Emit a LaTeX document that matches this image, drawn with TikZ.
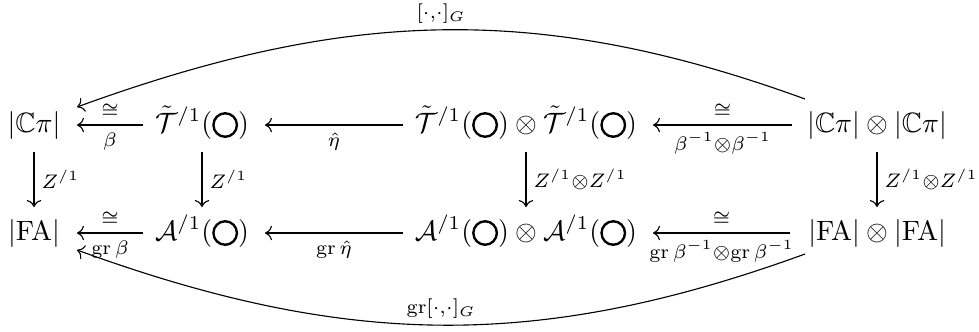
\documentclass[tikz,border=0pt]{standalone}
\usepackage{amsmath,amssymb}
\usetikzlibrary{arrows.meta,calc}
\newcommand{\crc}{\mathord{\tikz[baseline=-2.5pt,x=1pt,y=1pt]\draw[line width=0.85pt] (0,0) circle[radius=4.2pt];}}
\begin{document}
\begin{tikzpicture}[x=0.3575pt,y=-0.3575pt,
  obj/.style={anchor=base,inner sep=0pt},
  arr/.style={-{Computer Modern Rightarrow}, line width=0.4pt},
  lab/.style={inner sep=2.5pt},
  clab/.style={inner sep=2.2pt}]
\useasboundingbox (0,0) rectangle (979,331);
% objects
\node[obj] (A) at (34,132) {$|\mathbb{C}\pi|$};
\node[obj] (B) at (202,132) {$\tilde{\mathcal{T}}^{/1}(\crc)$};
\node[obj] (C) at (526,132) {$\tilde{\mathcal{T}}^{/1}(\crc)\otimes\tilde{\mathcal{T}}^{/1}(\crc)$};
\node[obj] (D) at (877,132) {$|\mathbb{C}\pi|\otimes|\mathbb{C}\pi|$};
\node[obj] (E) at (34,240) {$|\mathrm{FA}|$};
\node[obj] (F) at (202,240) {$\mathcal{A}^{/1}(\crc)$};
\node[obj] (G) at (526,240) {$\mathcal{A}^{/1}(\crc)\otimes\mathcal{A}^{/1}(\crc)$};
\node[obj] (H) at (877,240) {$|\mathrm{FA}|\otimes|\mathrm{FA}|$};
% top row
\draw[arr] ([shift={(-59,-7)}]B.base) -- node[lab,above]{$\scriptstyle\cong$} node[lab,below]{$\scriptstyle\beta$} ([shift={(43,-7)}]A.base);
\draw[arr] ([shift={(-123,-7)}]C.base) -- node[lab,below]{$\scriptstyle\hat\eta$} ([shift={(63,-7)}]B.base);
\draw[arr] ([shift={(-85,-7)}]D.base) -- node[lab,above]{$\scriptstyle\cong$} node[lab,below]{$\scriptstyle\beta^{-1}\otimes\beta^{-1}$} ([shift={(127,-7)}]C.base);
% bottom row
\draw[arr] ([shift={(-59,-7)}]F.base) -- node[lab,above]{$\scriptstyle\cong$} node[lab,below]{$\scriptstyle\operatorname{gr}\beta$} ([shift={(43,-7)}]E.base);
\draw[arr] ([shift={(-123,-7)}]G.base) -- node[lab,below]{$\scriptstyle\operatorname{gr}\hat\eta$} ([shift={(63,-7)}]F.base);
\draw[arr] ([shift={(-87,-7)}]H.base) -- node[lab,above]{$\scriptstyle\cong$} node[lab,below]{$\scriptstyle\operatorname{gr}\beta^{-1}\otimes\operatorname{gr}\beta^{-1}$} ([shift={(127,-7)}]G.base);
% verticals
\draw[arr] ([shift={(0,20)}]A.base) -- node[lab,right]{$\scriptstyle Z^{/1}$} ([shift={(0,-33)}]E.base);
\draw[arr] ([shift={(0,20)}]B.base) -- node[lab,right]{$\scriptstyle Z^{/1}$} ([shift={(0,-33)}]F.base);
\draw[arr] ([shift={(0,20)}]C.base) -- node[lab,right]{$\scriptstyle Z^{/1}\otimes Z^{/1}$} ([shift={(0,-33)}]G.base);
\draw[arr] ([shift={(0,20)}]D.base) -- node[lab,right]{$\scriptstyle Z^{/1}\otimes Z^{/1}$} ([shift={(0,-33)}]H.base);
% curves
\draw[arr] ([shift={(-72,-33)}]D.base) .. controls (537,1.5) and (345,9.5) .. ([shift={(43,-25)}]A.base)
  node[clab,pos=0.5,above]{$\scriptstyle[\cdot,\cdot]_G$};
\draw[arr] ([shift={(-72,14)}]H.base) .. controls (537,351.5) and (345,347.5) .. ([shift={(43,10)}]E.base)
  node[clab,pos=0.5,above]{$\scriptstyle\operatorname{gr}[\cdot,\cdot]_G$};
\end{tikzpicture}
\end{document}
